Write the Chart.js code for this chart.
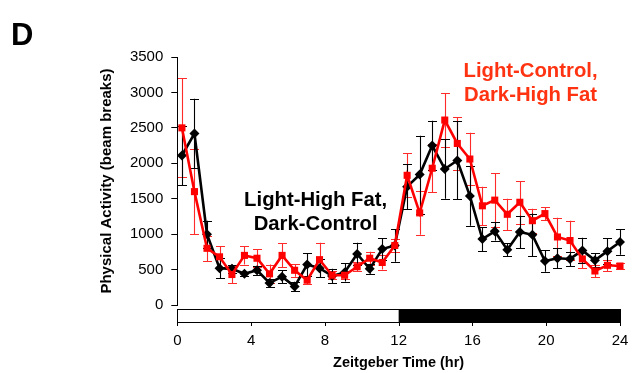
<!DOCTYPE html>
<html>
<head>
<meta charset="utf-8">
<script src="https://cdn.jsdelivr.net/npm/chart.js@4/dist/chart.umd.min.js"></script>
<style>
  html, body { margin: 0; padding: 0; background: #ffffff; }
  #wrap { width: 636px; height: 373px; position: relative; }
</style>
</head>
<body>
<div id="wrap"><canvas id="activity" width="636" height="373"></canvas></div>
<script>
// Zeitgeber time of each 40-min bin (hr)
const zt = [0.25, 0.93, 1.61, 2.29, 2.96, 3.64, 4.32, 5.00, 5.68, 6.36, 7.04, 7.71,
            8.39, 9.07, 9.75, 10.43, 11.11, 11.79, 12.46, 13.14, 13.82, 14.50, 15.18, 15.86,
            16.54, 17.21, 17.89, 18.57, 19.25, 19.93, 20.61, 21.29, 21.96, 22.64, 23.32, 24.00];

// Light-High Fat, Dark-Control: mean beam breaks and SEM
const lhfMean = [2110, 2420, 1000, 520, 510, 440, 490, 310, 400, 260, 570, 520,
                 410, 460, 720, 510, 790, 840, 1670, 1840, 2250, 1920, 2040, 1540,
                 930, 1040, 780, 1030, 990, 620, 660, 650, 770, 630, 760, 890];
const lhfSem  = [420, 490, 190, 140, 60, 30, 60, 50, 90, 60, 160, 130,
                 100, 130, 160, 70, 150, 230, 320, 550, 350, 420, 550, 420,
                 170, 130, 90, 230, 300, 150, 140, 100, 180, 100, 180, 180];

// Light-Control, Dark-High Fat: mean beam breaks and SEM
const lcMean = [2500, 1600, 800, 680, 430, 700, 660, 440, 700, 490, 350, 640,
                420, 420, 540, 660, 600, 840, 1830, 1300, 1930, 2610, 2280, 2060,
                1400, 1480, 1280, 1450, 1190, 1290, 960, 910, 650, 480, 560, 550];
const lcSem  = [700, 600, 180, 150, 120, 130, 130, 130, 170, 90, 60, 240,
                60, 60, 60, 90, 100, 90, 310, 310, 340, 380, 370, 370,
                270, 380, 220, 300, 170, 90, 270, 280, 130, 90, 80, 40];

const xTickValues = [0, 4, 8, 12, 16, 20, 24];
const yTickValues = [0, 500, 1000, 1500, 2000, 2500, 3000, 3500];

const FONT = "'Liberation Sans', Arial, sans-serif";
const RED = '#ff0000';
const RED_TEXT = '#ff3311';

const toPoints = (xs, ys) => xs.map((x, i) => ({ x: x, y: ys[i] }));

// Vertical SEM bars with caps, drawn under the lines
const errorBars = {
  id: 'errorBars',
  beforeDatasetsDraw(chart) {
    const { ctx, scales: { x, y } } = chart;
    ctx.save();
    chart.data.datasets.forEach((ds) => {
      ctx.strokeStyle = ds.errColor;
      ctx.lineWidth = 1.1;
      ds.data.forEach((p, i) => {
        const px = Math.round(x.getPixelForValue(p.x)) + 0.5;
        const yTop = y.getPixelForValue(p.y + ds.sem[i]);
        const yBot = y.getPixelForValue(p.y - ds.sem[i]);
        const cap = 4.5;
        ctx.beginPath();
        ctx.moveTo(px, yTop); ctx.lineTo(px, yBot);
        ctx.moveTo(px - cap, Math.round(yTop) + 0.5); ctx.lineTo(px + cap, Math.round(yTop) + 0.5);
        ctx.moveTo(px - cap, Math.round(yBot) + 0.5); ctx.lineTo(px + cap, Math.round(yBot) + 0.5);
        ctx.stroke();
      });
    });
    ctx.restore();
  }
};

// Light/dark phase bar under the plot, plus panel letter and group labels
const decorations = {
  id: 'decorations',
  afterDraw(chart) {
    const { ctx, scales: { x, y } } = chart;
    ctx.save();
    const x0 = x.getPixelForValue(0);
    const x12 = x.getPixelForValue(12);
    const x24 = x.getPixelForValue(24);
    const top = x.top + 4.5;
    const h = 13;
    ctx.fillStyle = '#ffffff';
    ctx.fillRect(x0, top, x12 - x0, h);
    ctx.fillStyle = '#000000';
    ctx.fillRect(x12, top, x24 - x12, h);
    ctx.strokeStyle = '#000000';
    ctx.lineWidth = 1;
    ctx.strokeRect(Math.round(x0) + 0.5, top, Math.round(x24 - x0), h);
    ctx.beginPath();
    xTickValues.forEach(v => {
      const px = Math.round(x.getPixelForValue(v)) + 0.5;
      ctx.moveTo(px, top + h);
      ctx.lineTo(px, top + h + 3.5);
    });
    ctx.stroke();

    // panel letter
    ctx.fillStyle = '#000000';
    ctx.font = 'bold 31px ' + FONT;
    ctx.textAlign = 'left';
    ctx.textBaseline = 'alphabetic';
    ctx.fillText('D', 11, 45);

    // group labels
    ctx.font = 'bold 20.3px ' + FONT;
    ctx.textAlign = 'center';
    ctx.fillStyle = '#000000';
    const bx = x.getPixelForValue(7.5);
    ctx.fillText('Light-High Fat,', bx, y.getPixelForValue(1395));
    ctx.fillText('Dark-Control', bx, y.getPixelForValue(1065));
    ctx.fillStyle = RED_TEXT;
    const rx = x.getPixelForValue(19.15);
    ctx.fillText('Light-Control,', rx, y.getPixelForValue(3215));
    ctx.fillText('Dark-High Fat', rx, y.getPixelForValue(2885));
    ctx.restore();
  }
};

new Chart(document.getElementById('activity'), {
  type: 'line',
  data: {
    datasets: [
      {
        label: 'Light-Control, Dark-High Fat',
        data: toPoints(zt, lcMean),
        sem: lcSem,
        errColor: 'rgba(255,20,20,0.9)',
        borderColor: RED,
        backgroundColor: RED,
        borderWidth: 2.6,
        pointStyle: 'rect',
        pointRadius: 5,
        pointBorderWidth: 0,
        pointBackgroundColor: RED,
        tension: 0,
        clip: false
      },
      {
        label: 'Light-High Fat, Dark-Control',
        data: toPoints(zt, lhfMean),
        sem: lhfSem,
        errColor: '#000000',
        borderColor: '#000000',
        backgroundColor: '#000000',
        borderWidth: 2.6,
        pointStyle: 'rectRot',
        pointRadius: 5,
        pointBorderWidth: 0,
        pointBackgroundColor: '#000000',
        tension: 0,
        clip: false
      }
    ]
  },
  options: {
    responsive: false,
    animation: false,
    devicePixelRatio: 1,
    layout: { padding: { left: 94, right: 16, top: 57, bottom: 0 } },
    plugins: {
      legend: { display: false },
      tooltip: { enabled: false },
      title: { display: false }
    },
    scales: {
      x: {
        type: 'linear',
        min: 0,
        max: 24,
        afterBuildTicks: s => { s.ticks = xTickValues.map(v => ({ value: v })); },
        afterFit: s => { s.height = 68; },
        border: { display: false },
        grid: { display: false, drawTicks: true, tickLength: 24 },
        ticks: {
          color: '#000000',
          font: { family: FONT, size: 15 },
          padding: 3,
          maxRotation: 0,
          autoSkip: false,
          callback: v => String(v)
        },
        title: {
          display: true,
          text: 'Zeitgeber Time (hr)',
          color: '#000000',
          font: { family: FONT, size: 14.5, weight: 'bold' },
          padding: { top: 0, bottom: 1 }
        }
      },
      y: {
        type: 'linear',
        min: 0,
        max: 3500,
        afterBuildTicks: s => { s.ticks = yTickValues.map(v => ({ value: v })); },
        afterFit: s => { s.width = 83.3; },
        border: { display: true, color: '#000000', width: 1 },
        grid: { drawOnChartArea: false, drawTicks: true, tickLength: 6, color: '#000000' },
        ticks: {
          color: '#000000',
          font: { family: FONT, size: 15 },
          padding: 8,
          callback: v => String(v)
        },
        title: {
          display: true,
          text: 'Physical Activity (beam breaks)',
          color: '#000000',
          font: { family: FONT, size: 15, weight: 'bold' },
          padding: { top: 4, bottom: 4 }
        }
      }
    }
  },
  plugins: [errorBars, decorations]
});
</script>
</body>
</html>
